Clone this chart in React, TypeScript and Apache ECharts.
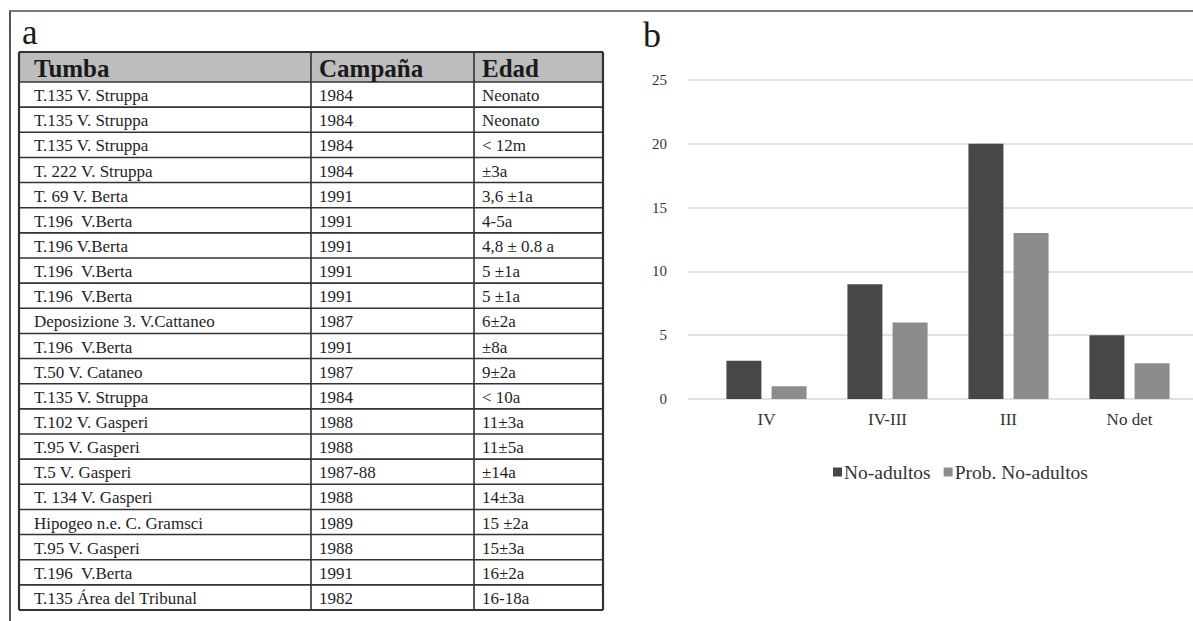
import React, { useEffect, useRef } from "react";
import * as echarts from "echarts";

// ---- Panel a: table data ----
const tableHeaders = ["Tumba", "Campaña", "Edad"];
const tumbas = [
  "T.135 V. Struppa",
  "T.135 V. Struppa",
  "T.135 V. Struppa",
  "T. 222 V. Struppa",
  "T. 69 V. Berta",
  "T.196  V.Berta",
  "T.196 V.Berta",
  "T.196  V.Berta",
  "T.196  V.Berta",
  "Deposizione 3. V.Cattaneo",
  "T.196  V.Berta",
  "T.50 V. Cataneo",
  "T.135 V. Struppa",
  "T.102 V. Gasperi",
  "T.95 V. Gasperi",
  "T.5 V. Gasperi",
  "T. 134 V. Gasperi",
  "Hipogeo n.e. C. Gramsci",
  "T.95 V. Gasperi",
  "T.196  V.Berta",
  "T.135 Área del Tribunal",
];
const campanas = [
  "1984", "1984", "1984", "1984", "1991", "1991", "1991", "1991", "1991",
  "1987", "1991", "1987", "1984", "1988", "1988", "1987-88", "1988", "1989",
  "1988", "1991", "1982",
];
const edades = [
  "Neonato", "Neonato", "< 12m", "±3a", "3,6 ±1a", "4-5a", "4,8 ± 0.8 a",
  "5 ±1a", "5 ±1a", "6±2a", "±8a", "9±2a", "< 10a", "11±3a", "11±5a", "±14a",
  "14±3a", "15 ±2a", "15±3a", "16±2a", "16-18a",
];

// ---- Panel b: chart data ----
const categories = ["IV", "IV-III", "III", "No det"];
const noAdultos = [3, 9, 20, 5];
const probNoAdultos = [1, 6, 13, 2.8];
const yTicks = { min: 0, max: 25, interval: 5 };

const FONT = "'Liberation Serif', 'DejaVu Serif', serif";

function buildTable() {
  const colX = [19, 311, 474, 603];
  const headTop = 52;
  const headBot = 82;
  const rowH = (610 - headBot) / tumbas.length;
  const bottom = headBot + rowH * tumbas.length;
  const els: any[] = [];
  const line = "#333333";
  els.push({
    type: "rect",
    shape: { x: colX[0], y: headTop, width: colX[3] - colX[0], height: headBot - headTop },
    style: { fill: "#bdbdbd" },
    silent: true,
  });
  const hy = [headTop, headBot];
  for (let i = 1; i <= tumbas.length; i++) hy.push(headBot + rowH * i);
  hy.forEach((y, i) => {
    const outer = i === 0 || i === hy.length - 1;
    els.push({
      type: "line",
      shape: { x1: colX[0], y1: y, x2: colX[3], y2: y },
      style: { stroke: line, lineWidth: outer ? 2.2 : 1.6 },
      silent: true,
    });
  });
  colX.forEach((x, i) => {
    const outer = i === 0 || i === colX.length - 1;
    els.push({
      type: "line",
      shape: { x1: x, y1: headTop, x2: x, y2: bottom },
      style: { stroke: line, lineWidth: outer ? 2.2 : 1.6 },
      silent: true,
    });
  });
  const pad = [15, 8, 8];
  tableHeaders.forEach((h, c) => {
    els.push({
      type: "text",
      style: {
        text: h,
        x: colX[c] + pad[c],
        y: (headTop + headBot) / 2 + 1,
        font: `bold 25px ${FONT}`,
        fill: "#1a1a1a",
        align: "left",
        verticalAlign: "middle",
        textAlign: "left",
        textVerticalAlign: "middle",
      },
      silent: true,
    });
  });
  const cols = [tumbas, campanas, edades];
  cols.forEach((col, c) => {
    col.forEach((t, r) => {
      els.push({
        type: "text",
        style: {
          text: t,
          x: colX[c] + pad[c],
          y: headBot + rowH * r + rowH / 2 + 1,
          font: `17px ${FONT}`,
          fill: "#1f1f1f",
          align: "left",
          verticalAlign: "middle",
          textAlign: "left",
          textVerticalAlign: "middle",
        },
        silent: true,
      });
    });
  });
  return els;
}

export default function App() {
  const ref = useRef<HTMLDivElement>(null);
  useEffect(() => {
    if (!ref.current) return;
    const chart = echarts.init(ref.current, undefined, { renderer: "svg" });
    const frame: any[] = [
      { type: "line", shape: { x1: 9, y1: 11, x2: 1193, y2: 11 }, style: { stroke: "#7a7a7a", lineWidth: 2 }, silent: true },
      { type: "line", shape: { x1: 10, y1: 11, x2: 10, y2: 621 }, style: { stroke: "#555555", lineWidth: 2 }, silent: true },
      {
        type: "text",
        style: { text: "a", x: 22, y: 50, font: `35px ${FONT}`, fill: "#1a1a1a", align: "left", verticalAlign: "bottom", textAlign: "left", textVerticalAlign: "bottom" },
        silent: true,
      },
      {
        type: "text",
        style: { text: "b", x: 643, y: 53, font: `36px ${FONT}`, fill: "#1a1a1a", align: "left", verticalAlign: "bottom", textAlign: "left", textVerticalAlign: "bottom" },
        silent: true,
      },
    ];
    chart.setOption({
      animation: false,
      backgroundColor: "#ffffff",
      textStyle: { fontFamily: FONT },
      graphic: { elements: [...frame, ...buildTable()] },
      grid: [
        { left: 706, width: 484, top: 80, height: 319, containLabel: false },
        { left: 688, right: 0, top: 80, height: 319, containLabel: false },
      ],
      xAxis: [
        {
          type: "category",
          gridIndex: 0,
          data: categories,
          axisLine: { show: false },
          axisTick: { show: false },
          axisLabel: { color: "#333333", fontSize: 17, fontFamily: FONT, margin: 12 },
          splitLine: { show: false },
        },
        {
          type: "value",
          gridIndex: 1,
          show: false,
          min: 0,
          max: 1,
        },
      ],
      yAxis: [
        {
          type: "value",
          gridIndex: 0,
          min: yTicks.min,
          max: yTicks.max,
          interval: yTicks.interval,
          axisLabel: { show: false },
          axisLine: { show: false },
          axisTick: { show: false },
          splitLine: { show: false },
        },
        {
          type: "value",
          gridIndex: 1,
          min: yTicks.min,
          max: yTicks.max,
          interval: yTicks.interval,
          axisLabel: { color: "#333333", fontSize: 15, fontFamily: FONT, margin: 21 },
          axisLine: { show: false },
          axisTick: { show: false },
          splitLine: { show: true, lineStyle: { color: "#d9d9d9", width: 1.5 } },
        },
      ],
      legend: {
        data: ["No-adultos", "Prob. No-adultos"],
        left: 828,
        top: 457,
        icon: "rect",
        itemWidth: 9,
        itemHeight: 9,
        itemGap: 13,
        textStyle: { fontSize: 19.5, color: "#333333", fontFamily: FONT, padding: [0, 0, 0, -3] },
      },
      series: [
        {
          name: "No-adultos",
          type: "bar",
          xAxisIndex: 0,
          yAxisIndex: 0,
          data: noAdultos,
          barWidth: 35,
          barGap: "29%",
          itemStyle: { color: "#474747" },
        },
        {
          name: "Prob. No-adultos",
          type: "bar",
          xAxisIndex: 0,
          yAxisIndex: 0,
          data: probNoAdultos,
          barWidth: 35,
          barGap: "29%",
          itemStyle: { color: "#8c8c8c" },
        },
      ],
    });
    return () => chart.dispose();
  }, []);
  return (
    <div
      ref={ref}
      style={{ position: "fixed", left: 0, top: 0, width: 1193, height: 621 }}
    />
  );
}
